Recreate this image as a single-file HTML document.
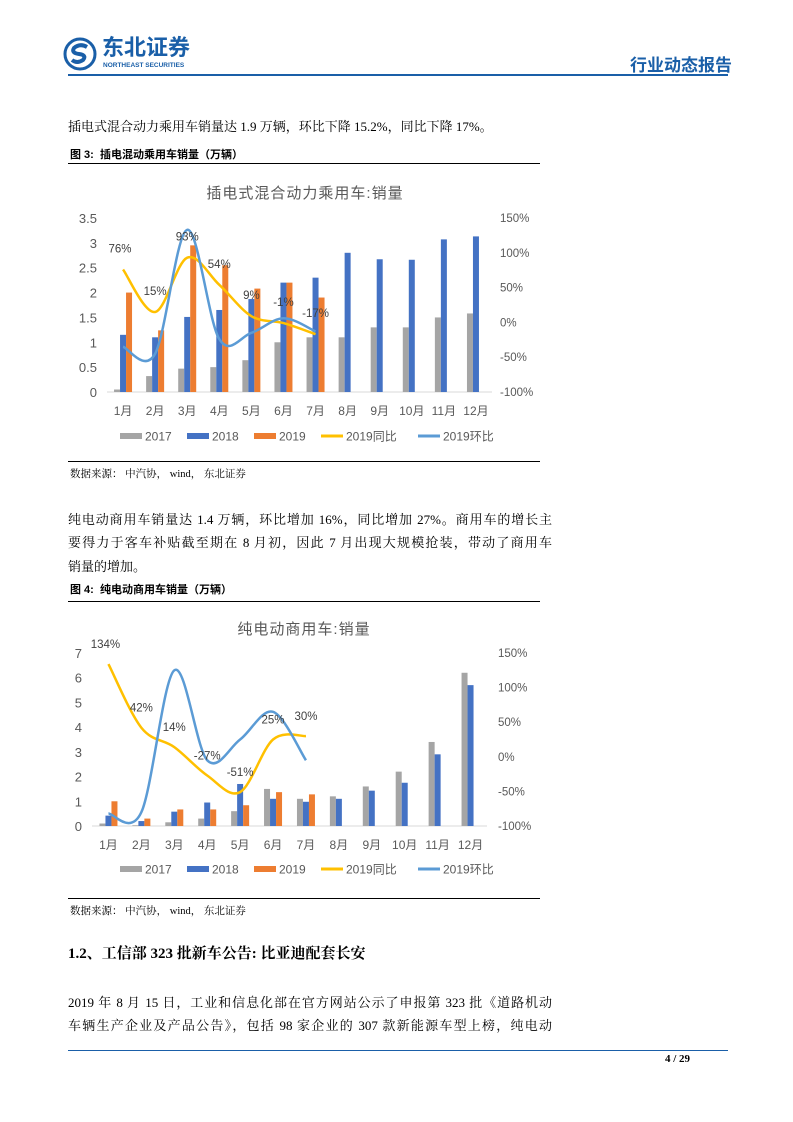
<!DOCTYPE html>
<html><head><meta charset="utf-8">
<style>
body{margin:0;background:#fff;}
#page{position:relative;width:793px;height:1122px;overflow:hidden;background:#fff;font-family:"Liberation Serif","Noto Serif CJK SC",serif;color:#000;}
.abs{position:absolute;white-space:nowrap;}
.line{position:absolute;left:68px;width:484px;font-size:13px;text-align:justify;text-align-last:justify;white-space:nowrap;}
.cap{position:absolute;left:70px;font-size:11px;font-weight:bold;font-family:"Liberation Sans","Noto Sans CJK SC",sans-serif;}
.src{position:absolute;left:70px;font-size:10.5px;}
.rule{position:absolute;left:68px;width:472px;height:1px;background:#000;}
svg text{font-family:"Liberation Sans","Noto Sans CJK SC",sans-serif;}
</style></head><body>
<div id="page">
<div>
<svg class="abs" style="left:63px;top:37px" width="34" height="34">
<circle cx="17" cy="17" r="15" fill="none" stroke="#1a5fa8" stroke-width="3"/>
<path d="M24 10 Q17 6 11 11 Q8 16 16 17 Q24 18 20 23 Q14 27 9 23" fill="none" stroke="#1a5fa8" stroke-width="4"/>
</svg>
<div class="abs" style="left:102px;top:37px;font-size:22px;line-height:22px;font-weight:bold;color:#1a5fa8;font-family:'Liberation Sans','Noto Sans CJK SC',sans-serif;letter-spacing:0px">东北证券</div>
<div class="abs" style="left:103px;top:62px;font-size:6.5px;line-height:7px;font-weight:bold;color:#1a5fa8;font-family:'Liberation Sans',sans-serif">NORTHEAST SECURITIES</div>
</div>
<div class="abs" style="left:630px;top:51px;font-size:17px;font-weight:bold;color:#1a5fa8;font-family:'Liberation Sans','Noto Sans CJK SC',sans-serif">行业动态报告</div>
<div class="abs" style="left:68px;top:74px;width:660px;height:2px;background:#1a5fa8"></div>

<div class="abs" style="left:68px;top:116px;font-size:13px">插电式混合动力乘用车销量达 1.9 万辆，环比下降 15.2%，同比下降 17%。</div>
<div class="cap" style="top:146px">图 3:&nbsp; 插电混动乘用车销量（万辆）</div>
<div class="rule" style="top:163px"></div>
<svg id="c1" class="abs" style="left:0;top:0" width="793" height="1122"></svg>
<div class="rule" style="top:461px"></div>
<div class="src" style="top:466px">数据来源： 中汽协， wind， 东北证券</div>

<div class="line" style="top:509px">纯电动商用车销量达 1.4 万辆，环比增加 16%，同比增加 27%。商用车的增长主</div>
<div class="line" style="top:532px">要得力于客车补贴截至期在 8 月初，因此 7 月出现大规模抢装，带动了商用车</div>
<div class="abs" style="left:68px;top:556px;font-size:13px">销量的增加。</div>
<div class="cap" style="top:581px">图 4:&nbsp; 纯电动商用车销量（万辆）</div>
<div class="rule" style="top:601px"></div>
<svg id="c2" class="abs" style="left:0;top:0" width="793" height="1122"></svg>
<div class="rule" style="top:898px"></div>
<div class="src" style="top:903px">数据来源： 中汽协， wind， 东北证券</div>

<div class="abs" style="left:68px;top:942px;font-size:15px;font-weight:bold">1.2、工信部 323 批新车公告: 比亚迪配套长安</div>
<div class="line" style="top:992px">2019 年 8 月 15 日，工业和信息化部在官方网站公示了申报第 323 批《道路机动</div>
<div class="line" style="top:1015px">车辆生产企业及产品公告》，包括 98 家企业的 307 款新能源车型上榜，纯电动</div>
<div class="abs" style="left:68px;top:1050px;width:660px;height:1px;background:#1a5fa8"></div>
<div class="abs" style="left:665px;top:1053px;font-size:11px;font-weight:bold">4 / 29</div>
</div>
<script>
const months=["1月","2月","3月","4月","5月","6月","7月","8月","9月","10月","11月","12月"];
const c1_2017=[0.05,0.32,0.47,0.5,0.64,1.0,1.1,1.1,1.3,1.3,1.5,1.58];
const c1_2018=[1.15,1.1,1.51,1.65,1.87,2.2,2.3,2.8,2.67,2.66,3.07,3.13];
const c1_2019=[2.0,1.24,2.95,2.55,2.08,2.2,1.9];
const c1_yoy=[76,15,93,54,9,-1,-17];
const c1_mom=[-35,-45,133,-24,-15,6,-13];
const c1_leftTicks=[0,0.5,1,1.5,2,2.5,3,3.5];
const c1_rightTicks=[-100,-50,0,50,100,150];
const c2_2017=[0.1,0.03,0.15,0.3,0.6,1.5,1.1,1.2,1.6,2.2,3.4,6.2];
const c2_2018=[0.42,0.2,0.58,0.95,1.7,1.1,0.98,1.1,1.43,1.75,2.9,5.7];
const c2_2019=[1.0,0.3,0.67,0.67,0.84,1.37,1.28];
const c2_yoy=[134,42,14,-27,-51,25,30];
const c2_mom=[-82,-80,125,-5,25,65,-5];
const c2_leftTicks=[0,1,2,3,4,5,6,7];
const c2_rightTicks=[-100,-50,0,50,100,150];
const NS="http://www.w3.org/2000/svg";
function mk(svg,tag,attrs,txt){const e=document.createElementNS(NS,tag);for(const k in attrs)e.setAttribute(k,attrs[k]);if(txt!==undefined)e.textContent=txt;svg.appendChild(e);return e;}
function smooth(pts){let d="M"+pts[0][0]+","+pts[0][1];for(let i=0;i<pts.length-1;i++){const p0=pts[Math.max(0,i-1)],p1=pts[i],p2=pts[i+1],p3=pts[Math.min(pts.length-1,i+2)];d+=" C"+(p1[0]+(p2[0]-p0[0])/6)+","+(p1[1]+(p2[1]-p0[1])/6)+" "+(p2[0]-(p3[0]-p1[0])/6)+","+(p2[1]-(p3[1]-p1[1])/6)+" "+p2[0]+","+p2[1];}return d;}
function chart(svg,cfg,d17,d18,d19,yoy,mom,lt,rt){
  const lmax=lt[lt.length-1];
  const yL=v=>cfg.y0-(v/lmax)*(cfg.y0-cfg.yTop);
  const yR=v=>cfg.y0-((v-rt[0])/(rt[rt.length-1]-rt[0]))*(cfg.y0-cfg.yTop);
  const bw=(cfg.x1-cfg.x0)/months.length;
  const xc=i=>cfg.x0+bw*(i+0.5);
  let t=mk(svg,"text",{x:cfg.titleX,y:cfg.titleY,"text-anchor":"middle","font-size":15,fill:"#595959","letter-spacing":1},cfg.title);
  
  
  lt.forEach(v=>{const e=mk(svg,"text",{x:cfg.lx,y:yL(v)+5,"text-anchor":"end","font-size":13,fill:"#595959"},String(v));
    
    });
  rt.forEach(v=>{const e=mk(svg,"text",{x:cfg.rx,y:yR(v)+4,"text-anchor":"start","font-size":11.5,fill:"#595959"},v+"%");
    
    });
  const ax=mk(svg,"line",{x1:cfg.x0,x2:cfg.x1,y1:cfg.y0,y2:cfg.y0,stroke:"#d9d9d9","stroke-width":1});
  
  
  months.forEach((m,i)=>{const e=mk(svg,"text",{x:xc(i),y:cfg.y0+23,"text-anchor":"middle","font-size":12,fill:"#595959"},m);
    
    });
  const series=[[d17,"#a5a5a5",-6,"bar-2017"],[d18,"#4472c4",0,"bar-2018"],[d19,"#ed7d31",6,"bar-2019"]];
  series.forEach(([arr,col,off,nm])=>arr.forEach((v,i)=>{const r=mk(svg,"rect",{x:xc(i)+off-3,y:yL(v),width:6,height:cfg.y0-yL(v),fill:col});
    
    }));
  const py=yoy.map((v,i)=>[xc(i),yR(v)]);
  const pm=mom.map((v,i)=>[xc(i),yR(v)]);
  const l1=mk(svg,"path",{d:smooth(py),fill:"none",stroke:"#ffc000","stroke-width":2.5});
  
  
  const l2=mk(svg,"path",{d:smooth(pm),fill:"none",stroke:"#5b9bd5","stroke-width":2.5});
  
  
  yoy.forEach((v,i)=>{const e=mk(svg,"text",{x:xc(i)+(i==0?-3:0),y:yR(v)-cfg.lblOff,"text-anchor":"middle","font-size":11.5,fill:"#404040"},v+"%");
    
    });
  const leg=[["2017","#a5a5a5",0],["2018","#4472c4",0],["2019","#ed7d31",0],["2019同比","#ffc000",1],["2019环比","#5b9bd5",1]];
  let lx=cfg.legX;
  leg.forEach(([n,c,isLine])=>{
    const k=mk(svg,"rect",{x:lx,y:cfg.legY-(isLine?1.5:3),width:22,height:isLine?3:6,fill:c});
    
    
    const e=mk(svg,"text",{x:lx+25,y:cfg.legY+4.5,"font-size":12,fill:"#595959"},n);
    
    
    lx+=isLine?cfg.legStepL:cfg.legStep;});
}
chart(document.getElementById("c1"),{x0:107,x1:492,y0:392,yTop:218,lx:97,rx:500,title:"插电式混合动力乘用车:销量",titleX:305,titleY:198,lblOff:17,legX:120,legY:436,legStep:67,legStepL:97},c1_2017,c1_2018,c1_2019,c1_yoy,c1_mom,c1_leftTicks,c1_rightTicks);
chart(document.getElementById("c2"),{x0:92,x1:487,y0:826,yTop:653,lx:82,rx:498,title:"纯电动商用车:销量",titleX:304,titleY:634,lblOff:16,legX:120,legY:869,legStep:67,legStepL:97},c2_2017,c2_2018,c2_2019,c2_yoy,c2_mom,c2_leftTicks,c2_rightTicks);
</script>
</body></html>
